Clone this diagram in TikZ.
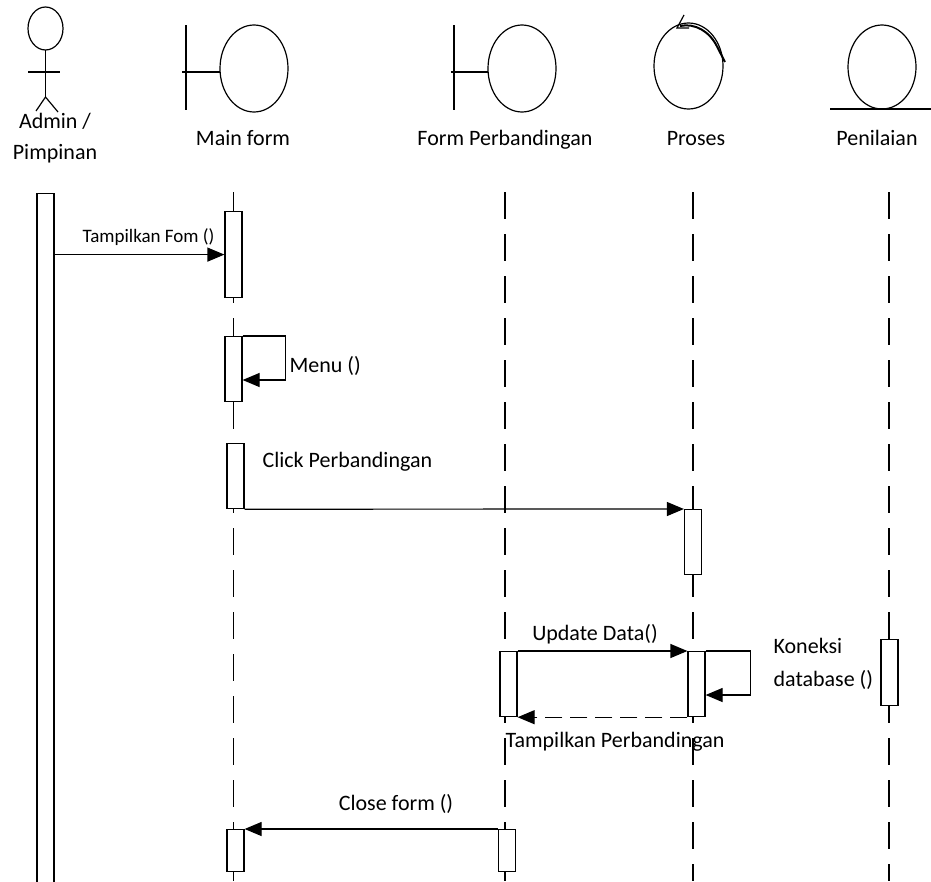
\documentclass[tikz,border=0pt]{standalone}
\usepackage{fontspec}
\setmainfont{Carlito}
\usetikzlibrary{positioning, arrows.meta}

\tikzset{
  act/.style={draw, fill=white, minimum width=17pt, minimum height=#1, inner sep=0pt, anchor=north},
  msg/.style={-{Triangle[length=17pt, width=14pt]}},
  ret/.style={msg, dash pattern=on 17pt off 8pt},
  lifeline/.style={dash pattern=on 27pt off 15pt},
  lbl/.style={font=\fontsize{22}{33}\selectfont, inner sep=0pt},
  small/.style={font=\fontsize{19}{23}\selectfont, inner sep=0pt}
}

\begin{document}
\begin{tikzpicture}[x=1pt, y=-1pt, line width=1.2pt]
\useasboundingbox (0,0) rectangle (931,881);

% actor
\draw (45.5,28.5) ellipse (17.5 and 21.5);
\draw (45.5,50) -- (45.5,97) (28,72) -- (60,72);
\draw (36,111) -- (45.5,97) -- (58,112);
% boundaries
\draw (186,25) -- (186,110) (182,72) -- (220,72);
\draw (254,68.5) ellipse (34 and 43.5);
\draw (454,25) -- (454,110) (451,72) -- (488,72);
\draw (522,68.5) ellipse (34 and 43.5);
% control
\draw (688.5,66) ellipse (34.5 and 43);
\draw (684,15) -- (677,28) -- (689,28);
\draw[line width=2pt] (680,26) arc[start angle=100, end angle=30, x radius=36pt, y radius=44pt] -- (725,62);
% entity
\draw (882,67) ellipse (34 and 42);
\draw (830,109) -- (931,109);

\node[lbl, align=center, anchor=base] (admin) at (55,159) {Admin /\\[-2pt]Pimpinan};
\node[lbl, anchor=base] (mainform) at (243,145) {Main form};
\node[lbl, anchor=base] (formperb) at (505,145) {Form Perbandingan};
\node[lbl, anchor=base] (proses) at (696,145) {Proses};
\node[lbl, anchor=base] (penilaian) at (877,145) {Penilaian};

% lifelines
\coordinate (mfTop) at (233.5,192);
\coordinate (fpTop) at (505,192);
\coordinate (prTop) at (693,192);
\coordinate (pnTop) at (889,192);
\foreach \l in {mfTop, fpTop, prTop, pnTop}
  \draw[lifeline] (\l) -- ++(0,689);

% activations
\node[act=720pt] (actbar) at (45.5,193) {};
\node[act=86pt] (mf1) at (233.5,211) {};
\node[act=65pt] (mf2) at (233.5,336) {};
\node[act=65pt] (mf3) at (235.5,443) {};
\node[act=65pt] (pr1) at (693,509) {};
\node[act=65pt] (fp1) at (508.5,651) {};
\node[act=65pt] (pr2) at (696.5,651) {};
\node[act=66pt] (pn1) at (889.5,639) {};
\node[act=42pt] (mf4) at (235.5,829) {};
\node[act=42pt] (fp2) at (507,829) {};

% messages
\draw[msg] (actbar.east |- mf1.west) -- (mf1.west);
\node[small, anchor=base] (tampil) at (148.5,242) {Tampilkan Fom ()};

\draw[msg] (mf2.north east) -- ++(43,0) coordinate (m1) -- ++(0,44) coordinate (m2) -- (mf2.east |- m2);
\node[lbl, anchor=base west] (menu) at (289,372) {Menu ()};

\draw[msg] (mf3.south east) -- (pr1.north west);
\node[lbl, anchor=base west] (click) at (262,467) {Click Perbandingan};

\draw[msg] (fp1.north east) -- (pr2.north west);
\node[lbl, anchor=base] (update) at (595,640) {Update Data()};

\draw[msg] (pr2.north east) -- ++(45,0) coordinate (k1) -- ++(0,44) coordinate (k2) -- (pr2.east |- k2);
\node[lbl, align=left, anchor=base west] (koneksi) at (773,686) {Koneksi\\database ()};

\draw[ret] (pr2.south west) -- (fp1.south east);
\node[lbl, anchor=base] (tampilperb) at (615,747) {Tampilkan Perbandingan};

\draw[msg] (fp2.north west) -- (mf4.north east);
\node[lbl, anchor=base] (close) at (396,810) {Close form ()};

\end{tikzpicture}
\end{document}
